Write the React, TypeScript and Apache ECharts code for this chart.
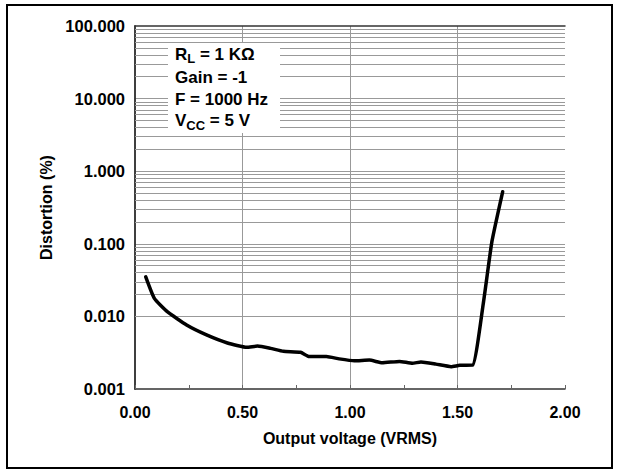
import React, { useEffect, useRef } from "react";
import * as echarts from "echarts";

// Output voltage (VRMS)
const voltage = [0.05, 0.09, 0.15, 0.24, 0.33, 0.43, 0.52, 0.57, 0.63, 0.69, 0.77, 0.81, 0.89, 0.95, 1.02, 1.09, 1.15, 1.23, 1.29, 1.33, 1.40, 1.47, 1.51, 1.57, 1.62, 1.66, 1.71];
// Distortion (%)
const distortion = [0.035, 0.0177, 0.0116, 0.0076, 0.0056, 0.0043, 0.00375, 0.0039, 0.00363, 0.0033, 0.0032, 0.0028, 0.0028, 0.0026, 0.00245, 0.0025, 0.0023, 0.0024, 0.00226, 0.00236, 0.0022, 0.00203, 0.00212, 0.00213, 0.0151, 0.107, 0.52];

const decades = [0.001, 0.01, 0.1, 1, 10];
const minorMultipliers = [2, 3, 4, 5, 6, 7, 8, 9];
const legendLines = ["R{sub|L} = 1 KΩ", "Gain = -1", "F = 1000 Hz", "V{sub|CC} = 5 V"];

const FONT = "'Liberation Sans', Arial, Helvetica, sans-serif";

export default function App() {
  const ref = useRef<HTMLDivElement>(null);
  useEffect(() => {
    if (!ref.current) return;
    const chart = echarts.init(ref.current, undefined, { renderer: "svg" });
    const minorLines: any[] = [];
    decades.forEach((d) => minorMultipliers.forEach((m) => minorLines.push({ yAxis: d * m })));
    const data = voltage.map((v, i) => [v, distortion[i]]);
    const legendY = [54, 77.5, 99.5, 120.5];
    chart.setOption({
      animation: false,
      backgroundColor: "#fff",
      grid: { left: 135, right: 53, top: 26, bottom: 81 },
      xAxis: [
        {
          type: "value",
          min: 0,
          max: 2,
          interval: 0.5,
          name: "Output voltage (VRMS)",
          nameLocation: "middle",
          nameGap: 41,
          nameTextStyle: { color: "#000", fontWeight: "bold", fontSize: 16, fontFamily: FONT },
          axisLine: { show: true, lineStyle: { color: "#333", width: 1.5 } },
          axisTick: { show: true, inside: true, length: 4, lineStyle: { color: "#666" } },
          minorTick: { show: true, splitNumber: 2, length: 4, lineStyle: { color: "#666" } },
          axisLabel: {
            color: "#000",
            fontWeight: "bold",
            fontSize: 16,
            fontFamily: FONT,
            margin: 15,
            formatter: (v: number) => v.toFixed(2),
          },
          splitLine: { show: true, showMinLine: false, showMaxLine: false, lineStyle: { color: "#999", width: 1 } },
        },
        {
          type: "value",
          position: "top",
          min: 0,
          max: 2,
          axisLine: { show: true, lineStyle: { color: "#333", width: 1.5 } },
          axisTick: { show: false },
          axisLabel: { show: false },
          splitLine: { show: false },
        },
      ],
      yAxis: [
        {
          type: "log",
          logBase: 10,
          min: 0.001,
          max: 100,
          splitNumber: 5,
          name: "Distortion (%)",
          nameLocation: "middle",
          nameGap: 80,
          nameTextStyle: { color: "#000", fontWeight: "bold", fontSize: 16, fontFamily: FONT },
          axisLine: { show: true, lineStyle: { color: "#333", width: 1.5 } },
          axisTick: { show: false },
          axisLabel: {
            color: "#000",
            fontWeight: "bold",
            fontSize: 16.5,
            fontFamily: FONT,
            margin: 10,
            formatter: (v: number) => v.toFixed(3),
          },
          splitLine: { show: true, showMinLine: false, showMaxLine: false, lineStyle: { color: "#999", width: 1 } },
        },
        {
          type: "value",
          position: "right",
          min: 0,
          max: 1,
          axisLine: { show: true, lineStyle: { color: "#333", width: 1.5 } },
          axisTick: { show: false },
          axisLabel: { show: false },
          splitLine: { show: false },
        },
      ],
      series: [
        {
          type: "line",
          data: [],
          z: 1,
          silent: true,
          markLine: {
            silent: true,
            animation: false,
            symbol: ["none", "none"],
            label: { show: false },
            lineStyle: { color: "#999", type: "solid", width: 1 },
            emphasis: { disabled: true },
            data: minorLines,
          },
        },
        {
          type: "line",
          data,
          z: 5,
          showSymbol: false,
          smooth: 0.15,
          lineStyle: { color: "#000", width: 3.5, join: "round", cap: "round" },
        },
      ],
      graphic: [
        {
          type: "rect",
          z: 10,
          shape: { x: 168, y: 43, width: 112, height: 90 },
          style: { fill: "#fff" },
        },
        ...legendLines.map((t, i) => ({
          type: "text",
          z: 11,
          x: 175,
          y: legendY[i],
          style: {
            text: t,
            fill: "#000",
            font: `bold 17px ${FONT}`,
            verticalAlign: "middle",
            rich: {
              sub: { fontSize: 13, fontWeight: "bold", fontFamily: FONT, fill: "#000", padding: [9, 0, 0, 0] },
            },
          },
        })),
        {
          type: "rect",
          z: 12,
          shape: { x: 7, y: 5, width: 605, height: 463 },
          style: { fill: "none", stroke: "#000", lineWidth: 2 },
        },
      ],
    });
    return () => chart.dispose();
  }, []);
  return (
    <div
      ref={ref}
      style={{ position: "fixed", left: 0, top: 0, width: 618, height: 470 }}
    />
  );
}
